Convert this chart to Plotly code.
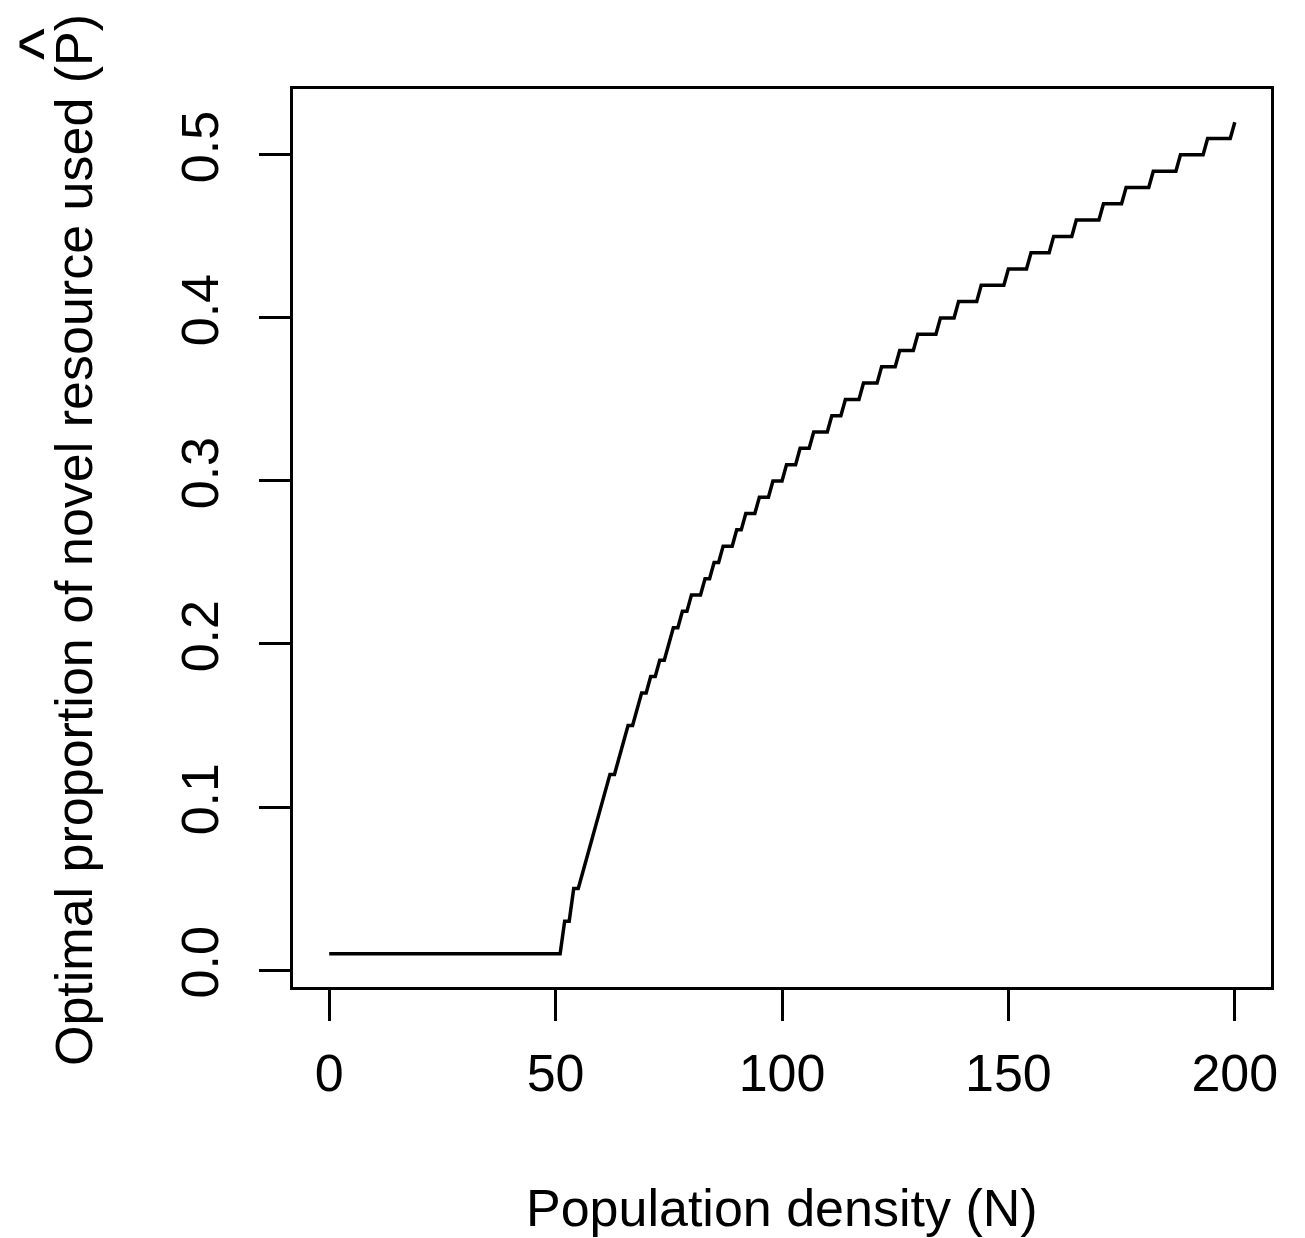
import plotly.graph_objects as go

# Population density values (N), one point per integer density
population_density = [
    0, 1, 2, 3, 4, 5, 6, 7, 8, 9, 10, 11, 12, 13, 14, 15, 16, 17, 18, 19,
    20, 21, 22, 23, 24, 25, 26, 27, 28, 29, 30, 31, 32, 33, 34, 35, 36, 37, 38, 39,
    40, 41, 42, 43, 44, 45, 46, 47, 48, 49, 50, 51, 52, 53, 54, 55, 56, 57, 58, 59,
    60, 61, 62, 63, 64, 65, 66, 67, 68, 69, 70, 71, 72, 73, 74, 75, 76, 77, 78, 79,
    80, 81, 82, 83, 84, 85, 86, 87, 88, 89, 90, 91, 92, 93, 94, 95, 96, 97, 98, 99,
    100, 101, 102, 103, 104, 105, 106, 107, 108, 109, 110, 111, 112, 113, 114, 115, 116, 117, 118, 119,
    120, 121, 122, 123, 124, 125, 126, 127, 128, 129, 130, 131, 132, 133, 134, 135, 136, 137, 138, 139,
    140, 141, 142, 143, 144, 145, 146, 147, 148, 149, 150, 151, 152, 153, 154, 155, 156, 157, 158, 159,
    160, 161, 162, 163, 164, 165, 166, 167, 168, 169, 170, 171, 172, 173, 174, 175, 176, 177, 178, 179,
    180, 181, 182, 183, 184, 185, 186, 187, 188, 189, 190, 191, 192, 193, 194, 195, 196, 197, 198, 199,
    200,
]

# Optimal proportion of novel resource used (P-hat)
optimal_proportion = [
    0.01, 0.01, 0.01, 0.01, 0.01, 0.01, 0.01, 0.01, 0.01, 0.01,
    0.01, 0.01, 0.01, 0.01, 0.01, 0.01, 0.01, 0.01, 0.01, 0.01,
    0.01, 0.01, 0.01, 0.01, 0.01, 0.01, 0.01, 0.01, 0.01, 0.01,
    0.01, 0.01, 0.01, 0.01, 0.01, 0.01, 0.01, 0.01, 0.01, 0.01,
    0.01, 0.01, 0.01, 0.01, 0.01, 0.01, 0.01, 0.01, 0.01, 0.01,
    0.01, 0.01,                                   # N = 50, 51
    0.03, 0.03,                                   # 52-53
    0.05, 0.05,                                   # 54-55
    0.06, 0.07, 0.08, 0.09, 0.10, 0.11,           # 56-61
    0.12, 0.12,                                   # 62-63
    0.13, 0.14,                                   # 64-65
    0.15, 0.15,                                   # 66-67
    0.16,                                         # 68
    0.17, 0.17,                                   # 69-70
    0.18, 0.18,                                   # 71-72
    0.19, 0.19,                                   # 73-74
    0.20,                                         # 75
    0.21, 0.21,                                   # 76-77
    0.22, 0.22,                                   # 78-79
    0.23, 0.23, 0.23,                             # 80-82
    0.24, 0.24,                                   # 83-84
    0.25, 0.25,                                   # 85-86
    0.26, 0.26, 0.26,                             # 87-89
    0.27, 0.27,                                   # 90-91
    0.28, 0.28, 0.28,                             # 92-94
    0.29, 0.29, 0.29,                             # 95-97
    0.30, 0.30, 0.30,                             # 98-100
    0.31, 0.31, 0.31,                             # 101-103
    0.32, 0.32, 0.32,                             # 104-106
    0.33, 0.33, 0.33, 0.33,                       # 107-110
    0.34, 0.34, 0.34,                             # 111-113
    0.35, 0.35, 0.35, 0.35,                       # 114-117
    0.36, 0.36, 0.36, 0.36,                       # 118-121
    0.37, 0.37, 0.37, 0.37,                       # 122-125
    0.38, 0.38, 0.38, 0.38,                       # 126-129
    0.39, 0.39, 0.39, 0.39, 0.39,                 # 130-134
    0.40, 0.40, 0.40, 0.40,                       # 135-138
    0.41, 0.41, 0.41, 0.41, 0.41,                 # 139-143
    0.42, 0.42, 0.42, 0.42, 0.42, 0.42,           # 144-149
    0.43, 0.43, 0.43, 0.43, 0.43,                 # 150-154
    0.44, 0.44, 0.44, 0.44, 0.44,                 # 155-159
    0.45, 0.45, 0.45, 0.45, 0.45,                 # 160-164
    0.46, 0.46, 0.46, 0.46, 0.46, 0.46,           # 165-170
    0.47, 0.47, 0.47, 0.47, 0.47,                 # 171-175
    0.48, 0.48, 0.48, 0.48, 0.48, 0.48,           # 176-181
    0.49, 0.49, 0.49, 0.49, 0.49, 0.49,           # 182-187
    0.50, 0.50, 0.50, 0.50, 0.50, 0.50,           # 188-193
    0.51, 0.51, 0.51, 0.51, 0.51, 0.51,           # 194-199
    0.52,                                         # 200
]

x_tick_values = [0, 50, 100, 150, 200]
x_tick_labels = ["0", "50", "100", "150", "200"]
y_tick_values = [0.0, 0.1, 0.2, 0.3, 0.4, 0.5]
y_tick_labels = ["0.0", "0.1", "0.2", "0.3", "0.4", "0.5"]

x_title = "Population density (N)"
y_title = "Optimal proportion of novel resource used (P)"

FONT = "Liberation Sans, Arial, Helvetica, sans-serif"
FS = 52

W, H = 1305, 1238
L, R, T, B = 293, 34, 89, 251
PW, PH = W - L - R, H - T - B


def px_x(px):
    return (px - L) / PW


def px_y(py):
    return (H - B - py) / PH


fig = go.Figure()
fig.add_trace(go.Scatter(
    x=population_density,
    y=optimal_proportion,
    mode="lines",
    line=dict(color="black", width=3.5),
    hoverinfo="skip",
    showlegend=False,
))

axis_common = dict(
    showgrid=False,
    zeroline=False,
    showline=True,
    mirror=True,
    linecolor="black",
    linewidth=3,
    ticks="outside",
    ticklen=31,
    tickwidth=3,
    tickcolor="black",
    tickfont=dict(family=FONT, size=FS, color="black"),
)

fig.update_layout(
    width=W,
    height=H,
    margin=dict(l=L, r=R, t=T, b=B, pad=0),
    paper_bgcolor="white",
    plot_bgcolor="white",
    xaxis=dict(
        range=[-8, 208],
        tickmode="array",
        tickvals=x_tick_values,
        ticktext=x_tick_labels,
        ticklabelstandoff=8,
        **axis_common,
    ),
    yaxis=dict(
        range=[-0.0104, 0.5404],
        tickmode="array",
        tickvals=y_tick_values,
        ticktext=y_tick_labels,
        tickangle=-90,
        ticklabelstandoff=20,
        **axis_common,
    ),
    annotations=[
        dict(
            text=x_title,
            xref="paper", yref="paper",
            x=px_x(782), y=px_y(1208),
            xanchor="center", yanchor="middle",
            showarrow=False,
            font=dict(family=FONT, size=FS, color="black"),
        ),
        dict(
            text=y_title,
            xref="paper", yref="paper",
            x=px_x(74), y=px_y(540),
            xanchor="center", yanchor="middle",
            textangle=-90,
            showarrow=False,
            font=dict(family=FONT, size=FS, color="black"),
        ),
        dict(
            text="^",
            xref="paper", yref="paper",
            x=px_x(43), y=px_y(44),
            xanchor="center", yanchor="middle",
            textangle=-90,
            showarrow=False,
            font=dict(family=FONT, size=68, color="black"),
        ),
    ],
)

fig.write_html("out.html")
